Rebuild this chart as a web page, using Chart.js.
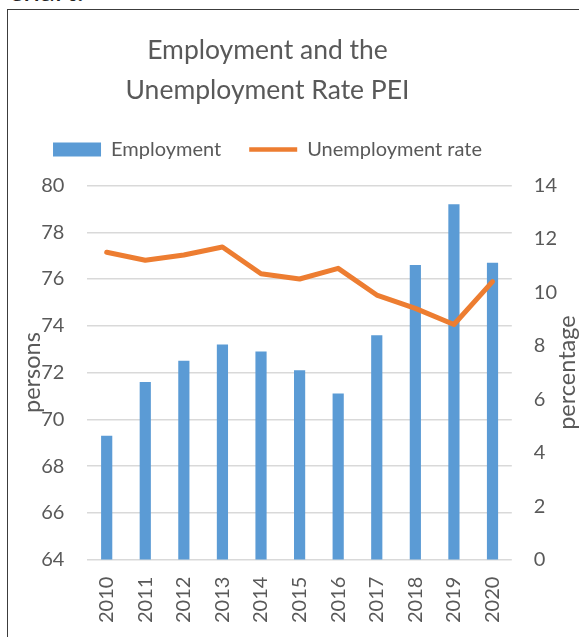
<!DOCTYPE html>
<html>
<head>
<meta charset="utf-8">
<script src="https://cdn.jsdelivr.net/npm/chart.js@4.4.1/dist/chart.umd.min.js"></script>
<style>
body{margin:0;background:#fff;overflow:hidden;font-family:Lato,sans-serif;}
.above{position:absolute;left:9px;top:-29px;font-size:30px;color:#222;}
.frame{position:absolute;left:7px;top:9px;width:700px;height:700px;border:1.5px solid #3c3c3c;}
#box{position:absolute;left:8px;top:10px;width:571px;height:630px;}
</style>
</head>
<body>
<div class="above">chart.</div>
<div class="frame"></div>
<div id="box"><canvas id="myChart"></canvas></div>
<script>
const years=['2010','2011','2012','2013','2014','2015','2016','2017','2018','2019','2020'];
const employment=[69.3,71.6,72.5,73.2,72.9,72.1,71.1,73.6,76.6,79.2,76.7];
const unemploymentRate=[11.5,11.2,11.4,11.7,10.7,10.5,10.9,9.9,9.4,8.8,10.4];
const chartTitle=['Employment and the','Unemployment Rate PEI'];
const leftTitle='persons';
const rightTitle='percentage';

const grey='#595959';
Chart.defaults.font.family='Lato, sans-serif';
Chart.defaults.color=grey;

// excel centres title + legend a bit left of the canvas middle,
// and writes the right axis title bottom-to-top
const shiftX=-26;
const excelBits={
    id:'excelBits',
    afterLayout(chart){
        [chart.titleBlock,chart.legend].forEach(b=>{
            if(b){b.left+=shiftX;b.right+=shiftX;}
        });
    },
    afterDraw(chart){
        const s=chart.scales.y1;
        const ctx=chart.ctx;
        ctx.save();
        ctx.translate(chart.width-11.5,(s.top+s.bottom)/2);
        ctx.rotate(-Math.PI/2);
        ctx.font='23.5px Lato, sans-serif';
        ctx.fillStyle=grey;
        ctx.textAlign='center';
        ctx.textBaseline='middle';
        ctx.fillText(rightTitle,0,0);
        ctx.restore();
    }
};

let ctx=document.querySelector('#myChart').getContext('2d');
var chart=new Chart(ctx,{
    type:'bar',
    data:{
        labels:years,
        datasets:[
            {
                type:'line',
                label:'Unemployment rate',
                data:unemploymentRate,
                yAxisID:'y1',
                borderColor:'#ED7D31',
                backgroundColor:'#ED7D31',
                borderWidth:5,
                pointRadius:0,
                tension:0,
                borderCapStyle:'round',
                borderJoinStyle:'round',
                order:0
            },
            {
                label:'Employment',
                data:employment,
                yAxisID:'y',
                backgroundColor:'#5B9BD5',
                barPercentage:0.29,
                categoryPercentage:1,
                order:1
            }
        ]
    },
    options:{
        responsive:true,
        maintainAspectRatio:false,
        animation:false,
        layout:{padding:{left:0,right:0,top:0,bottom:0}},
        plugins:{
            title:{
                display:true,
                text:chartTitle,
                color:grey,
                font:{size:26.5,weight:'normal',lineHeight:1.5},
                padding:{top:21,bottom:1}
            },
            legend:{
                display:true,
                reverse:true,
                labels:{
                    usePointStyle:true,
                    pointStyleWidth:48,
                    boxHeight:14,
                    color:grey,
                    font:{size:20},
                    padding:28,
                    generateLabels(chart){
                        return chart.data.datasets.map((d,i)=>({
                            text:d.label,
                            fillStyle:d.backgroundColor,
                            strokeStyle:d.type==='line'?d.borderColor:d.backgroundColor,
                            lineWidth:d.type==='line'?4.5:0,
                            pointStyle:d.type==='line'?'line':'rect',
                            datasetIndex:i,
                            fontColor:grey
                        }));
                    }
                }
            },
            tooltip:{enabled:false}
        },
        scales:{
            // empty top axis, only keeps a gap between legend and plot
            xTop:{
                type:'category',
                position:'top',
                grid:{display:false,drawTicks:false},
                border:{display:false},
                ticks:{display:false},
                title:{display:true,text:'',font:{size:10,lineHeight:1.6},padding:0}
            },
            x:{
                grid:{display:false,drawTicks:false},
                border:{display:false},
                ticks:{
                    color:grey,
                    font:{size:20},
                    minRotation:90,
                    maxRotation:90,
                    padding:17
                }
            },
            y:{
                position:'left',
                min:64,
                max:80,
                grid:{color:'#D9D9D9',lineWidth:1.5,drawTicks:false},
                border:{display:false},
                ticks:{stepSize:2,color:grey,font:{size:20},padding:23},
                title:{
                    display:true,
                    text:leftTitle,
                    color:grey,
                    font:{size:23.5},
                    padding:{top:10,bottom:-28}
                }
            },
            y1:{
                position:'right',
                min:0,
                max:14,
                grid:{display:false,drawTicks:false},
                border:{display:false},
                ticks:{stepSize:2,color:grey,font:{size:20},padding:22}
            }
        }
    },
    plugins:[excelBits]
});
</script>
</body>
</html>
